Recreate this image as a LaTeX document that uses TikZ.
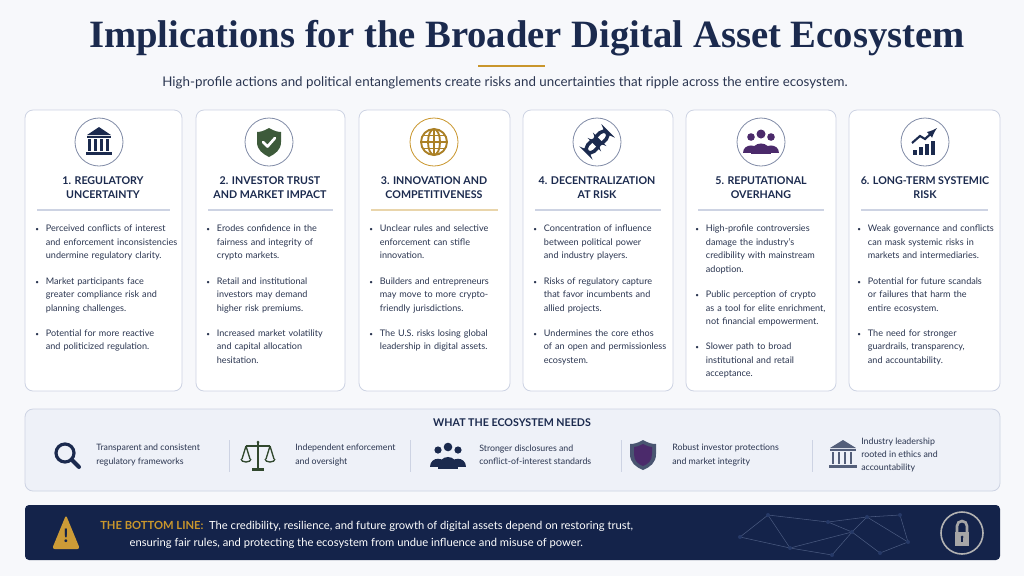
\documentclass[tikz,border=0pt]{standalone}
\usepackage{fontspec}
\setmainfont{Lato}
\newfontfamily\titlefont{Liberation Serif}
\usetikzlibrary{calc}
\definecolor{navy}{HTML}{1B2A4E}
\definecolor{gold}{HTML}{C9962C}
\definecolor{cardb}{HTML}{CDD3E3}
\definecolor{bg}{HTML}{F7F8FB}
\definecolor{panel}{HTML}{EEF1F8}
\definecolor{txt}{HTML}{2A3550}
\definecolor{shieldg}{HTML}{3D5A3A}
\definecolor{purp}{HTML}{4B2A6B}
\definecolor{barbg}{HTML}{14234A}
\definecolor{netc}{HTML}{4A5A80}
\newcommand{\bl}[1]{\noindent\makebox[8pt][l]{\scalebox{0.7}{\textbullet}}\begin{tabular}[t]{@{}l@{}}#1\end{tabular}\par\vspace{8pt}}
\tikzset{
 card/.style={draw=cardb,fill=white,rounded corners=6pt,line width=0.6pt},
 iconc/.style={draw=netc!70,fill=white,line width=0.6pt,circle,minimum size=36pt},
 chead/.style={font=\bfseries\fontsize{8}{10.5}\selectfont,text=navy,align=center},
 cbody/.style={font=\fontsize{6.8}{10.1}\selectfont,text=txt,text width=125pt,anchor=north west,inner sep=0pt},
 sep/.style={draw=cardb,line width=0.8pt},
 need/.style={font=\fontsize{6.6}{10}\selectfont,text=txt,align=left,anchor=west,inner sep=0pt},
 vdiv/.style={draw=cardb,line width=0.5pt}
}
\begin{document}
\begin{tikzpicture}[x=0.75pt,y=-0.75pt]
\fill[bg] (0,0) rectangle (1024,576);
\useasboundingbox (0,0) rectangle (1024,576);
% title
\node (title) at (527,38) {\titlefont\bfseries\fontsize{29}{32}\selectfont\color{navy}Implications for the Broader Digital Asset Ecosystem};
\draw[gold,line width=1pt] (478,66) -- (545,66);
\node (sub) at (505,83) {\fontsize{10}{12}\selectfont\color{txt}High-profile actions and political entanglements create risks and uncertainties that ripple across the entire ecosystem.};
% cards
\foreach \n/\a/\b in {c1/25/182,c2/196/345,c3/359/510,c4/523/673,c5/686/836,c6/849/1000}{
 \draw[card] (\a,110) rectangle (\b,391);
 \draw[sep] (\a+12,210) -- (\b-12,210);
}
\draw[gold!40,line width=0.8pt] (371,210) -- (498,210);
% icon circles
\node[iconc] (i1) at (99,142) {};
\node[iconc] (i2) at (269,142) {};
\node[iconc,draw=gold] (i3) at (434,142) {};
\node[iconc] (i4) at (597,142) {};
\node[iconc] (i5) at (761,142) {};
\node[iconc] (i6) at (925,142) {};
% icon 1 bank
\fill[navy] (87,135) -- (99,127) -- (111,135) -- cycle;
\fill[navy] (87,136) rectangle (111,138);
\foreach \x in {89,95,101,107}{\fill[navy] (\x-1,139) rectangle (\x+2,151);}
\fill[navy] (86,152) rectangle (112,155);
% icon 2 shield
\fill[shieldg] (269,128) .. controls (274,131) and (278,132) .. (281,132) -- (281,142) .. controls (281,150) and (275,154) .. (269,157) .. controls (263,154) and (257,150) .. (257,142) -- (257,132) .. controls (260,132) and (264,131) .. (269,128) -- cycle;
\draw[white,line width=2pt,line cap=round,line join=round] (263,142) -- (267.5,146.5) -- (275,138);
% icon 3 globe
\begin{scope}[gold!85!black,line width=1.4pt]
\draw (434,142) circle (13);
\draw (434,142) ellipse (6 and 13);
\draw (434,129) -- (434,155);
\draw (421,142) -- (447,142);
\draw (423,135.5) -- (445,135.5);
\draw (423,148.5) -- (445,148.5);
\end{scope}
% icon 4 chain
\begin{scope}[shift={(597,142)},rotate=45,navy,line width=2.6pt]
\draw[rounded corners=4pt] (-14,-4.5) rectangle (2,4.5);
\draw[rounded corners=4pt] (-2,-4.5) rectangle (14,4.5);
\end{scope}
% icon 5 people
\fill[purp] (761,134) circle (4.5);
\fill[purp] (751,137) circle (3.8);
\fill[purp] (771,137) circle (3.8);
\fill[purp] (743,153) .. controls (743,143) and (759,143) .. (759,153) -- cycle;
\fill[purp] (763,153) .. controls (763,143) and (779,143) .. (779,153) -- cycle;
\fill[purp] (751,154) .. controls (751,140) and (771,140) .. (771,154) -- cycle;
% icon 6 chart
\foreach \x/\h in {913/5,919/8,925/11,931/14}{\fill[navy] (\x,155-\h) rectangle (\x+4,155);}
\draw[navy,line width=1.6pt,-latex] (912,143) -- (920,136) -- (925,139) -- (937,128);
% card headings
\node[chead] (h1) at (103,188) {1. REGULATORY\\UNCERTAINTY};
\node[chead] (h2) at (270,188) {2. INVESTOR TRUST\\AND MARKET IMPACT};
\node[chead] (h3) at (434,188) {3. INNOVATION AND\\COMPETITIVENESS};
\node[chead] (h4) at (597,188) {4. DECENTRALIZATION\\AT RISK};
\node[chead] (h5) at (761,188) {5. REPUTATIONAL\\OVERHANG};
\node[chead] (h6) at (925,188) {6. LONG-TERM SYSTEMIC\\RISK};
% card bodies
\node[cbody] (b1) at (35,222) {\bl{Perceived conflicts of interest\\and enforcement inconsistencies\\undermine regulatory clarity.}\bl{Market participants face\\greater compliance risk and\\planning challenges.}\bl{Potential for more reactive\\and politicized regulation.}};
\node[cbody] (b2) at (206,222) {\bl{Erodes confidence in the\\fairness and integrity of\\crypto markets.}\bl{Retail and institutional\\investors may demand\\higher risk premiums.}\bl{Increased market volatility\\and capital allocation\\hesitation.}};
\node[cbody] (b3) at (369,222) {\bl{Unclear rules and selective\\enforcement can stifle\\innovation.}\bl{Builders and entrepreneurs\\may move to more crypto-\\friendly jurisdictions.}\bl{The U.S. risks losing global\\leadership in digital assets.}};
\node[cbody] (b4) at (533,222) {\bl{Concentration of influence\\between political power\\and industry players.}\bl{Risks of regulatory capture\\that favor incumbents and\\allied projects.}\bl{Undermines the core ethos\\of an open and permissionless\\ecosystem.}};
\node[cbody] (b5) at (695,222) {\bl{High-profile controversies\\damage the industry's\\credibility with mainstream\\adoption.}\bl{Public perception of crypto\\as a tool for elite enrichment,\\not financial empowerment.}\bl{Slower path to broad\\institutional and retail\\acceptance.}};
\node[cbody] (b6) at (857,222) {\bl{Weak governance and conflicts\\can mask systemic risks in\\markets and intermediaries.}\bl{Potential for future scandals\\or failures that harm the\\entire ecosystem.}\bl{The need for stronger\\guardrails, transparency,\\and accountability.}};
% needs panel
\draw[fill=panel,draw=cardb,rounded corners=6pt,line width=0.6pt] (25,409) rectangle (1000,491);
\node (nh) at (512,423) {\bfseries\fontsize{8}{10}\selectfont\color{navy}WHAT THE ECOSYSTEM NEEDS};
\foreach \x in {229,410,621,812}{\draw[vdiv] (\x,440) -- (\x,472);}
% magnifier
\draw[navy,line width=2.4pt] (65,453) circle (9);
\draw[navy,line width=3pt,line cap=round] (71.5,459.5) -- (79,467);
\node[need] (n1) at (96,455) {Transparent and consistent\\regulatory frameworks};
% scale
\begin{scope}[shieldg!80!black,line width=1pt]
\draw (258,442) -- (258,468);
\draw (246,446) -- (270,446);
\draw (246,446) -- (242,459) (246,446) -- (250,459);
\draw (270,446) -- (266,459) (270,446) -- (274,459);
\draw (241,459) arc (180:0:5 and 3);
\draw (265,459) arc (180:0:5 and 3);
\fill (252,468) rectangle (264,471);
\fill (258,442) circle (1.5);
\end{scope}
\node[need] (n2) at (295,455) {Independent enforcement\\and oversight};
% people navy
\fill[navy] (448,447) circle (4.3);
\fill[navy] (438,450) circle (3.6);
\fill[navy] (458,450) circle (3.6);
\fill[navy] (430,467) .. controls (430,456) and (446,456) .. (446,467) -- cycle;
\fill[navy] (450,467) .. controls (450,456) and (466,456) .. (466,467) -- cycle;
\fill[navy] (438,469) .. controls (438,453) and (458,453) .. (458,469) -- cycle;
\node[need] (n3) at (479,455) {Stronger disclosures and\\conflict-of-interest standards};
% shield purple
\fill[navy!80] (643,440) .. controls (648,443) and (652,444) .. (656,444) -- (656,454) .. controls (656,463) and (650,467) .. (643,470) .. controls (636,467) and (630,463) .. (630,454) -- (630,444) .. controls (634,444) and (638,443) .. (643,440) -- cycle;
\fill[purp] (643,444) .. controls (647,446) and (650,447) .. (652,447) -- (652,454) .. controls (652,461) and (648,464) .. (643,466) .. controls (638,464) and (634,461) .. (634,454) -- (634,447) .. controls (636,447) and (639,446) .. (643,444) -- cycle;
\node[need] (n4) at (672,455) {Robust investor protections\\and market integrity};
% bank small
\fill[navy!75] (830,448) -- (843,440) -- (856,448) -- cycle;
\fill[navy!75] (830,449) rectangle (856,451);
\foreach \x in {833,839,845,851}{\fill[navy!75] (\x-1,452) rectangle (\x+1.2,464);}
\fill[navy!75] (829,465) rectangle (857,468);
\node[need] (n5) at (861,455) {Industry leadership\\rooted in ethics and\\accountability};
% bottom bar
\fill[barbg,rounded corners=3pt] (25,505) rectangle (1000,560);
\begin{scope}[netc,line width=0.4pt]
\coordinate (p1) at (740,537); \coordinate (p2) at (768,515); \coordinate (p3) at (790,548);
\coordinate (p4) at (828,522); \coordinate (p5) at (852,532); \coordinate (p6) at (867,517);
\coordinate (p7) at (880,553); \coordinate (p8) at (908,542); \coordinate (p9) at (832,555);
\coordinate (p10) at (900,515);
\draw (p1)--(p2)--(p4)--(p6)--(p10) (p1)--(p3)--(p5)--(p6) (p3)--(p9)--(p5)--(p7)--(p8)--(p10) (p2)--(p3) (p4)--(p5) (p6)--(p8);
\foreach \p in {p1,p2,p3,p4,p5,p6,p7,p8,p9,p10}{\fill[netc!120] (\p) circle (2);}
\end{scope}
\draw[gray!60,line width=1.2pt] (962,533) circle (21);
\fill[gray!70] (955,532) rectangle (969,546);
\draw[gray!70,line width=2pt] (957,532) -- (957,526) arc (180:360:5) -- (967,532);
\fill[barbg] (962,537) circle (1.5);
\fill[barbg] (961.3,537) rectangle (962.7,542);
% warning
\fill[gold!95,rounded corners=2pt] (66,515) -- (80,549) -- (52,549) -- cycle;
\node[font=\bfseries\fontsize{14}{14}\selectfont,text=barbg] (ex) at (66,536) {!};
\node[anchor=west,inner sep=0pt,font=\fontsize{8.4}{13.2}\selectfont,text=white,align=left] (bl) at (100,535) {{\bfseries\color{gold}THE BOTTOM LINE:}\enspace The credibility, resilience, and future growth of digital assets depend on restoring trust,\\\hspace*{22pt}ensuring fair rules, and protecting the ecosystem from undue influence and misuse of power.};
\end{tikzpicture}
\end{document}
